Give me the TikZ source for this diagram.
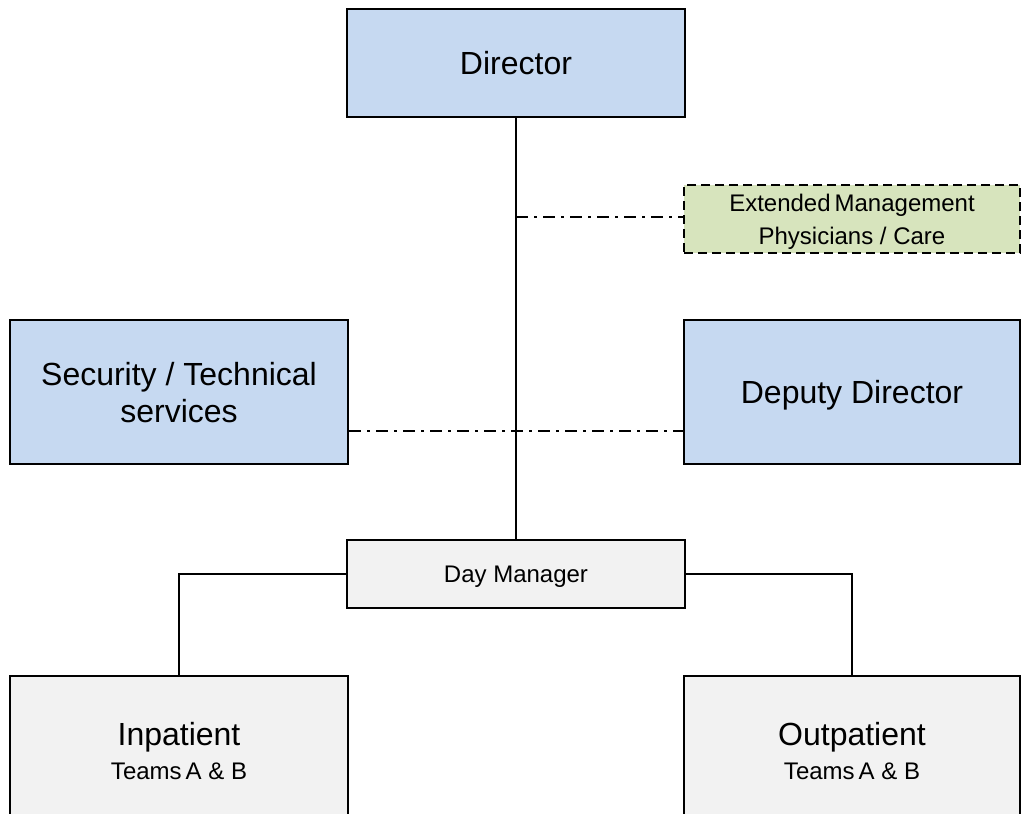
\documentclass[tikz,border=0pt]{standalone}
\usepackage{fontspec}
\setmainfont{Liberation Sans}
\definecolor{boxblue}{HTML}{C6D9F1}
\definecolor{boxgrey}{HTML}{F2F2F2}
\definecolor{boxgreen}{HTML}{D7E4BD}
\begin{document}
\begin{tikzpicture}[x=1pt,y=-1pt,
  bigfont/.style={font=\fontsize{32}{37}\selectfont},
  smallfont/.style={font=\fontsize{24}{33}\selectfont},
  orgbox/.style={draw,rectangle,line width=2.8pt,inner sep=0pt,text depth=0pt,align=center,minimum width=338pt},
  bluebox/.style={orgbox,bigfont,fill=boxblue},
  greybox/.style={orgbox,fill=boxgrey},
  extbox/.style={orgbox,smallfont,fill=boxgreen,dash pattern=on 9pt off 5pt},
  link/.style={line width=2.2pt},
  dotlink/.style={line width=2.2pt,dash pattern=on 12pt off 6pt on 3pt off 6pt}]
\useasboundingbox (0,0) rectangle (1021,814);
\clip (0,0) rectangle (1021,814);
% boxes
\node[bluebox,minimum height=108pt] (director) at (516,63) {Director};
\node[extbox,minimum width=336pt,minimum height=68pt] (extended) at (852,219) {Extended\,Management\\Physicians / Care};
\node[bluebox,minimum height=144pt] (security) at (179,392) {Security / Technical\\services};
\node[bluebox,minimum width=336pt,minimum height=144pt] (deputy) at (852,392) {Deputy Director};
\node[greybox,smallfont,minimum height=68pt] (day) at (516,574) {Day Manager};
\node[greybox,bigfont,minimum height=150pt] (inpatient) at (179,751)
  {Inpatient\\[-3pt]{\fontsize{24}{28}\selectfont Teams\,A \& B}};
\node[greybox,bigfont,minimum width=336pt,minimum height=150pt] (outpatient) at (852,751)
  {Outpatient\\[-3pt]{\fontsize{24}{28}\selectfont Teams\,A \& B}};
% lines
\coordinate (tap) at (director.south |- 0,217);
\draw[link] (director.south) -- (day.north);
\draw[dotlink] (tap) -- (tap -| extended.west);
\draw[dotlink] ([yshift=-39pt]security.east) -- ([yshift=-39pt]deputy.west);
\draw[link] (day.west) -| (inpatient.north);
\draw[link] (day.east) -| (outpatient.north);
\end{tikzpicture}
\end{document}
